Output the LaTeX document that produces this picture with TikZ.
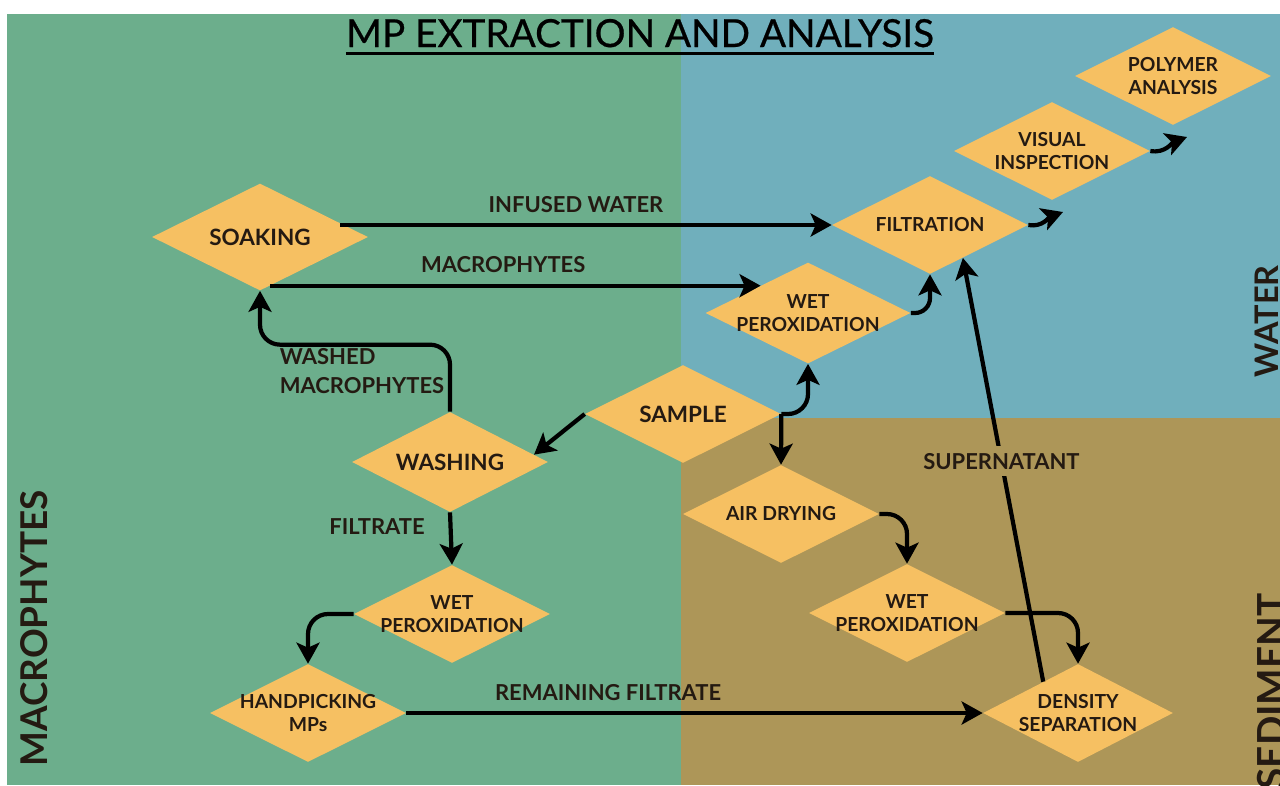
\documentclass[tikz,border=0pt]{standalone}
\usepackage{fontspec}
\setmainfont{Lato}
\newfontfamily\titlefont{Lato}[FakeBold=0.6]
\usetikzlibrary{arrows.meta,shapes.geometric}
\definecolor{macrogreen}{RGB}{108,174,140}
\definecolor{waterblue}{RGB}{112,175,188}
\definecolor{sedbrown}{RGB}{173,150,88}
\definecolor{stagefill}{RGB}{246,192,98}
\definecolor{inkdark}{RGB}{36,26,18}
\tikzstyle{stage} = [diamond, aspect=2, fill=stagefill, inner sep=-4pt, minimum width=3.92cm, minimum height=1.96cm, align=center, text=inkdark, font=\fontsize{11}{12.8}\selectfont\bfseries]
\tikzstyle{bigword} = [font=\fontsize{12.8}{14}\selectfont\bfseries]
\tikzstyle{flow} = [line width=2.4pt, draw=black, -{Stealth[length=0.42cm, width=0.46cm, inset=0.1cm]}]
\tikzstyle{hook} = [flow, rounded corners=0.4cm]
\tikzstyle{tag} = [text=inkdark, font=\fontsize{12.5}{16}\selectfont\bfseries, inner sep=2pt]
\tikzstyle{side} = [rotate=90, anchor=north east, inner sep=0pt, text=inkdark]

\begin{document}
\begin{tikzpicture}[x=0.02cm, y=0.02cm]
\useasboundingbox (0,0) rectangle (1280,-785);
\fill[macrogreen] (7,-14) rectangle (681,-785);
\fill[waterblue] (681,-14) rectangle (1280,-418);
\fill[sedbrown] (681,-418) rectangle (1280,-785);

\begin{scope}
\clip (7,-14) rectangle (1280,-785);
\node (macrolbl) [side, font=\fontsize{21}{21}\selectfont\bfseries] at (20,-490) {MACROPHYTES};
\node (waterlbl) [side, font=\fontsize{18.5}{18.5}\selectfont\bfseries] at (1255,-265) {WATER};
\node (sedlbl) [side, font=\fontsize{22}{22}\selectfont\bfseries] at (1257,-593) {SEDIMENT};
\end{scope}

\node (title) [anchor=base, inner sep=0pt, text=black, font=\titlefont\fontsize{22}{22}\selectfont] at (640,-47) {MP EXTRACTION AND ANALYSIS};
\draw[line width=1.6pt] ([yshift=-3.5pt]title.base west) -- ([yshift=-3.5pt]title.base east);

\node (soak) [stage, bigword, minimum width=4.32cm, minimum height=2.14cm] at (260,-237) {SOAKING};
\node (filt) [stage] at (930,-225) {FILTRATION};
\node (visual) [stage] at (1052,-151) {VISUAL\\INSPECTION};
\node (polymer) [stage] at (1173,-76) {POLYMER\\ANALYSIS};
\node (wetw) [stage, minimum width=4.1cm, minimum height=2.02cm] at (808,-313) {WET\\PEROXIDATION};
\node (sample) [stage, bigword] at (683,-414) {SAMPLE};
\node (wash) [stage, bigword, minimum height=2cm] at (450,-462) {WASHING};
\node (wetm) [stage] at (452,-614) {WET\\PEROXIDATION};
\node (hand) [stage] at (308,-713) {HANDPICKING\\MPs};
\node (airdry) [stage] at (781,-514) {AIR DRYING};
\node (wets) [stage] at (907,-613) {WET\\PEROXIDATION};
\node (dens) [stage, minimum width=3.8cm] at (1078,-713) {DENSITY\\SEPARATION};

\coordinate (visin) at (1063,-212);
\coordinate (polyin) at (1187,-137);

\draw[flow] (soak.10 |- filt.west) -- (filt.west) node (infusedlbl) [tag, above=4pt, pos=0.48] {INFUSED WATER};
\draw[flow] (soak.-78) -- (soak.-78 -| wetw.150) node (macrolink) [tag, above=4pt, pos=0.475] {MACROPHYTES};
\draw[hook] (wash.north) -- ++(0,67) -| (soak.south);
\node (washlbl) [tag, align=left, anchor=west] at (276,-371) {WASHED\\MACROPHYTES};
\draw[flow] (sample.west) -- (wash.5);
\draw[flow] (wash.south) -- (wetm.north);
\node (filtlbl) [tag] at (377,-527) {FILTRATE};
\draw[hook] (wetm.west) -| (hand.north);
\draw[flow] (hand.east) -- (dens.west) node (restlbl) [tag, above=4pt, pos=0.35] {REMAINING FILTRATE};
\draw[flow] (sample.east) -- (airdry.north);
\draw[hook] (sample.east) -| (wetw.south);
\draw[hook] (airdry.east) -| (wets.north);
\draw[hook] (wets.east) -| (dens.north);
\draw[flow] (dens.138) -- (filt.-45) node (superlbl) [tag, fill=sedbrown, inner sep=4pt, pos=0.52] {SUPERNATANT};
\draw[hook, rounded corners=0.3cm] (wetw.east) -| (filt.south);
\draw[flow] (filt.east) to[out=-10, in=200] (visin);
\draw[flow] (visual.east) to[out=-10, in=200] (polyin);
\end{tikzpicture}
\end{document}
